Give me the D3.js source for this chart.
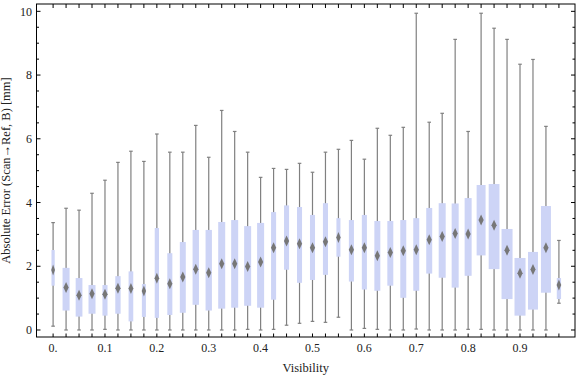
<!DOCTYPE html>
<html>
<head>
<meta charset="utf-8">
<script src="https://cdn.jsdelivr.net/npm/d3@7"></script>
<style>
  body { margin: 0; background: #fff; }
  svg { display: block; }
  text { font-family: "Liberation Serif", "Times New Roman", serif; fill: #222; }
</style>
</head>
<body>
<svg id="chart" width="576" height="377"></svg>
<script>
// visibility bins (one box per bin)
var visibility = [0, 0.025, 0.05, 0.075, 0.1, 0.125, 0.15, 0.175, 0.2, 0.225,
  0.25, 0.275, 0.3, 0.325, 0.35, 0.375, 0.4, 0.425, 0.45, 0.475,
  0.5, 0.525, 0.55, 0.575, 0.6, 0.625, 0.65, 0.675, 0.7, 0.725,
  0.75, 0.775, 0.8, 0.825, 0.85, 0.875, 0.9, 0.925, 0.95, 0.975];

// box statistics [mm]
var whiskerLow = [0.12, 0, 0, 0, 0.02, 0, 0, 0, 0, 0,
  0, 0, 0, 0, 0, 0.02, 0, 0.02, 0.15, 0.21,
  0.27, 0.24, 0.40, 0, 0.05, 0.02, 0, 0, 0.03, 0,
  0, 0, 0.02, 0.02, 0, 0, 0, 0, 0, 0.84];
var q1 = [1.39, 0.61, 0.42, 0.51, 0.45, 0.51, 0.27, 0.41, 0.38, 0.47,
  0.54, 0.79, 0.61, 0.67, 0.70, 0.76, 0.70, 0.95, 1.89, 1.48,
  1.57, 1.73, 2.30, 1.52, 1.27, 1.23, 1.39, 1.01, 1.23, 1.77,
  1.64, 1.33, 1.70, 2.34, 1.91, 0.97, 0.45, 0.64, 1.17, 0.97];
var median = [1.88, 1.33, 1.09, 1.14, 1.12, 1.31, 1.30, 1.22, 1.62, 1.45,
  1.66, 1.91, 1.80, 2.08, 2.08, 1.99, 2.13, 2.58, 2.79, 2.71,
  2.58, 2.77, 2.90, 2.52, 2.58, 2.33, 2.43, 2.49, 2.52, 2.83,
  2.93, 3.03, 3.01, 3.45, 3.29, 2.50, 1.78, 1.90, 2.58, 1.41];
var q3 = [2.51, 1.95, 1.63, 1.41, 1.41, 1.69, 1.84, 1.44, 3.20, 2.41,
  2.76, 3.14, 3.14, 3.39, 3.45, 3.26, 3.36, 3.70, 3.91, 3.86,
  3.61, 3.98, 3.51, 3.45, 3.61, 3.42, 3.42, 3.45, 3.51, 3.83,
  3.98, 3.97, 4.14, 4.55, 4.58, 3.17, 2.26, 2.45, 3.89, 1.63];
var whiskerHigh = [3.37, 3.82, 3.76, 4.29, 4.70, 5.26, 5.61, 5.29, 6.15, 5.58,
  5.58, 6.42, 5.42, 6.89, 6.23, 5.58, 4.79, 5.07, 5.04, 5.23,
  4.95, 5.58, 5.67, 5.95, 5.36, 6.33, 6.11, 6.36, 9.94, 6.52,
  6.80, 9.12, 6.23, 9.94, 9.47, 9.12, 8.34, 8.49, 6.39, 2.81];
// relative box width (fraction of bin spacing)
var boxWidth = [0.25, 0.54, 0.52, 0.54, 0.39, 0.41, 0.36, 0.31, 0.33, 0.39,
  0.46, 0.49, 0.49, 0.54, 0.54, 0.54, 0.54, 0.39, 0.39, 0.39,
  0.39, 0.39, 0.31, 0.39, 0.39, 0.46, 0.46, 0.46, 0.46, 0.46,
  0.54, 0.54, 0.54, 0.69, 0.83, 0.85, 0.85, 0.77, 0.77, 0.33];

var xTickValues = [0, 0.1, 0.2, 0.3, 0.4, 0.5, 0.6, 0.7, 0.8, 0.9];
var xTickLabels = ["0.", "0.1", "0.2", "0.3", "0.4", "0.5", "0.6", "0.7", "0.8", "0.9"];
var yTickValues = [0, 2, 4, 6, 8, 10];

var svg = d3.select("#chart");
var W = +svg.attr("width"), H = +svg.attr("height");
var margin = {top: 4, right: 1, bottom: 40, left: 36.5};
var w = W - margin.left - margin.right;
var h = H - margin.top - margin.bottom;

var x = d3.scaleLinear().domain([-0.032, 1.006]).range([0, w]);
var y = d3.scaleLinear().domain([-0.22, 10.23]).range([h, 0]);
var step = x(0.025) - x(0);

var defs = svg.append("defs");
defs.append("filter").attr("id", "soft")
  .attr("x", "-50%").attr("y", "-50%").attr("width", "200%").attr("height", "200%")
  .append("feGaussianBlur").attr("stdDeviation", 0.6);

var g = svg.append("g").attr("transform", "translate(" + margin.left + "," + margin.top + ")");

var boxes = visibility.map(function(v, i) {
  return {v: v, lo: whiskerLow[i], q1: q1[i], med: median[i], q3: q3[i], hi: whiskerHigh[i], bw: boxWidth[i] * step};
});

var bg = g.selectAll(".box").data(boxes).enter().append("g").attr("class", "box");

// whiskers
bg.append("line")
  .attr("x1", function(d) { return x(d.v); }).attr("x2", function(d) { return x(d.v); })
  .attr("y1", function(d) { return y(d.lo); }).attr("y2", function(d) { return y(d.hi); })
  .attr("stroke", "#808080").attr("stroke-width", 1.2);
bg.selectAll(".cap").data(function(d) { return [[d.v, d.lo], [d.v, d.hi]]; })
  .enter().append("line")
  .attr("x1", function(c) { return x(c[0]) - 1.8; }).attr("x2", function(c) { return x(c[0]) + 1.8; })
  .attr("y1", function(c) { return y(c[1]); }).attr("y2", function(c) { return y(c[1]); })
  .attr("stroke", "#808080").attr("stroke-width", 1.2);

// boxes
bg.append("rect")
  .attr("x", function(d) { return x(d.v) - d.bw / 2; })
  .attr("width", function(d) { return d.bw; })
  .attr("y", function(d) { return y(d.q3); })
  .attr("height", function(d) { return y(d.q1) - y(d.q3); })
  .attr("fill", "#cdd4f6");

// median diamonds
bg.append("path")
  .attr("d", function(d) {
    var cx = x(d.v), cy = y(d.med);
    var hw = Math.min(2.6, d.bw * 0.4 + 0.6), hh = 5.5;
    return "M" + cx + "," + (cy - hh) + "L" + (cx + hw) + "," + cy + "L" + cx + "," + (cy + hh) + "L" + (cx - hw) + "," + cy + "Z";
  })
  .attr("fill", "#777").attr("filter", "url(#soft)");

// frame
g.append("rect").attr("width", w).attr("height", h)
  .attr("fill", "none").attr("stroke", "#000").attr("stroke-width", 1);

// y ticks (inside, both sides), minor every 0.5
var yMinor = d3.range(0, 10.01, 0.5);
yMinor.forEach(function(v) {
  var major = v % 2 === 0;
  var len = major ? 4 : 2.5;
  g.append("line").attr("x1", 0).attr("x2", len).attr("y1", y(v)).attr("y2", y(v)).attr("stroke", "#000");
  g.append("line").attr("x1", w).attr("x2", w - len).attr("y1", y(v)).attr("y2", y(v)).attr("stroke", "#000");
});
g.selectAll(".ylab").data(yTickValues).enter().append("text")
  .attr("x", -4.5).attr("y", function(d) { return y(d); })
  .attr("dy", "0.35em").attr("text-anchor", "end")
  .style("font-size", "12px")
  .text(function(d) { return d; });

// x ticks at every box, top and bottom
visibility.forEach(function(v) {
  g.append("line").attr("x1", x(v)).attr("x2", x(v)).attr("y1", h).attr("y2", h - 3.5).attr("stroke", "#000");
  g.append("line").attr("x1", x(v)).attr("x2", x(v)).attr("y1", 0).attr("y2", 4).attr("stroke", "#000");
});
g.selectAll(".xlab").data(xTickValues).enter().append("text")
  .attr("x", function(d) { return x(d); })
  .attr("y", h + 14.5)
  .attr("text-anchor", "middle")
  .style("font-size", "12px")
  .text(function(d, i) { return xTickLabels[i]; });

// axis titles
g.append("text")
  .attr("x", w / 2).attr("y", h + 35)
  .attr("text-anchor", "middle").style("font-size", "12.5px")
  .text("Visibility");
g.append("text")
  .attr("transform", "translate(" + (-27) + "," + (h / 2) + ") rotate(-90)")
  .attr("text-anchor", "middle").style("font-size", "12.5px")
  .text("Absolute Error (Scan\u2192Ref, B) [mm]");
</script>
</body>
</html>
